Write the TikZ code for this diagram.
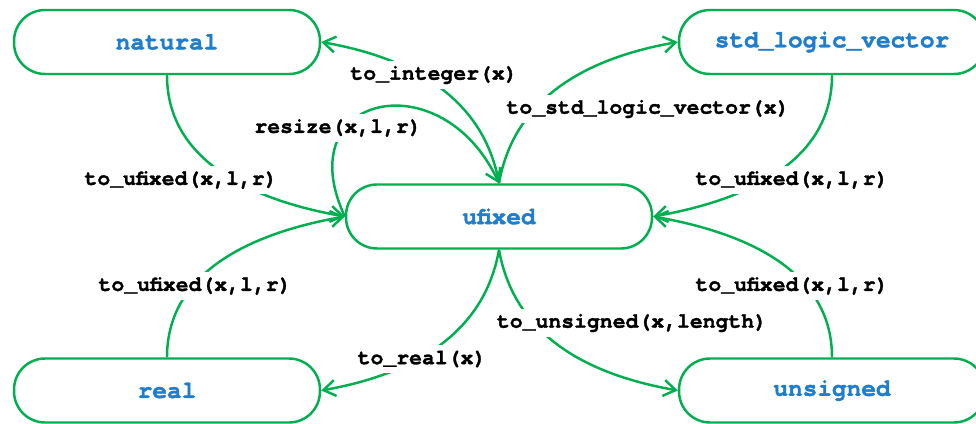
\documentclass[tikz,border=0pt]{standalone}
\usepackage{fontspec}
\setmonofont[BoldFeatures={FakeBold=1.5}]{TeX Gyre Cursor}
\usetikzlibrary{arrows.meta}
\definecolor{boxgreen}{RGB}{0,176,80}
\definecolor{typeblue}{RGB}{30,125,205}

\begin{document}
\begin{tikzpicture}[x=0.02cm,y=0.02cm,
    type/.style={draw=boxgreen,line width=1.4pt,rounded corners=0.62cm,
      minimum width=6.12cm,minimum height=1.28cm,text=typeblue,
      font=\ttfamily\bfseries\fontsize{13.9}{16}\selectfont},
    conv/.style={draw=boxgreen,line width=1.4pt,
      -{Straight Barb[length=2.4mm,width=3.2mm]}},
    func/.style={fill=white,inner sep=3pt,
      font=\ttfamily\bfseries\fontsize{12.2}{14}\selectfont}]
  \useasboundingbox (0,0) rectangle (976,423);
  \node[type] (natural) at (167,381) {natural};
  \node[type] (slv) at (832,381) {std\_logic\_vector};
  \node[type] (ufixed) at (499,206.5) {ufixed};
  \node[type] (real) at (167,32.5) {real};
  \node[type] (unsigned) at (832,32.5) {unsigned};
  \draw[conv] (natural.south) to[out=-90,in=170] (ufixed.west);
  \draw[conv] (real.north) to[out=90,in=190] (ufixed.west);
  \draw[conv] (slv.south) to[out=-90,in=10] (ufixed.east);
  \draw[conv] (unsigned.north) to[out=90,in=-10] (ufixed.east);
  \draw[conv] (ufixed.north) to[out=100,in=-10] (natural.east);
  \draw[conv] (ufixed.north) to[out=80,in=190] (slv.west);
  \draw[conv] (ufixed.south) to[out=-100,in=10] (real.east);
  \draw[conv] (ufixed.south) to[out=-80,in=170] (unsigned.west);
  \draw[conv] (ufixed.west) to[out=115,in=115,looseness=2.2] (ufixed.north);
  \node[func] (f1) at (434,348) {to\_integer(x)};
  \node[func] (f2) at (338,295) {resize(x,l,r)};
  \node[func] (f3) at (181,243) {to\_ufixed(x,l,r)};
  \node[func] (f4) at (648,314) {to\_std\_logic\_vector(x)};
  \node[func] (f5) at (792,243) {to\_ufixed(x,l,r)};
  \node[func] (f6) at (195,137) {to\_ufixed(x,l,r)};
  \node[func] (f7) at (422,64) {to\_real(x)};
  \node[func] (f8) at (632,100) {to\_unsigned(x,length)};
  \node[func] (f9) at (792,137) {to\_ufixed(x,l,r)};
\end{tikzpicture}
\end{document}
